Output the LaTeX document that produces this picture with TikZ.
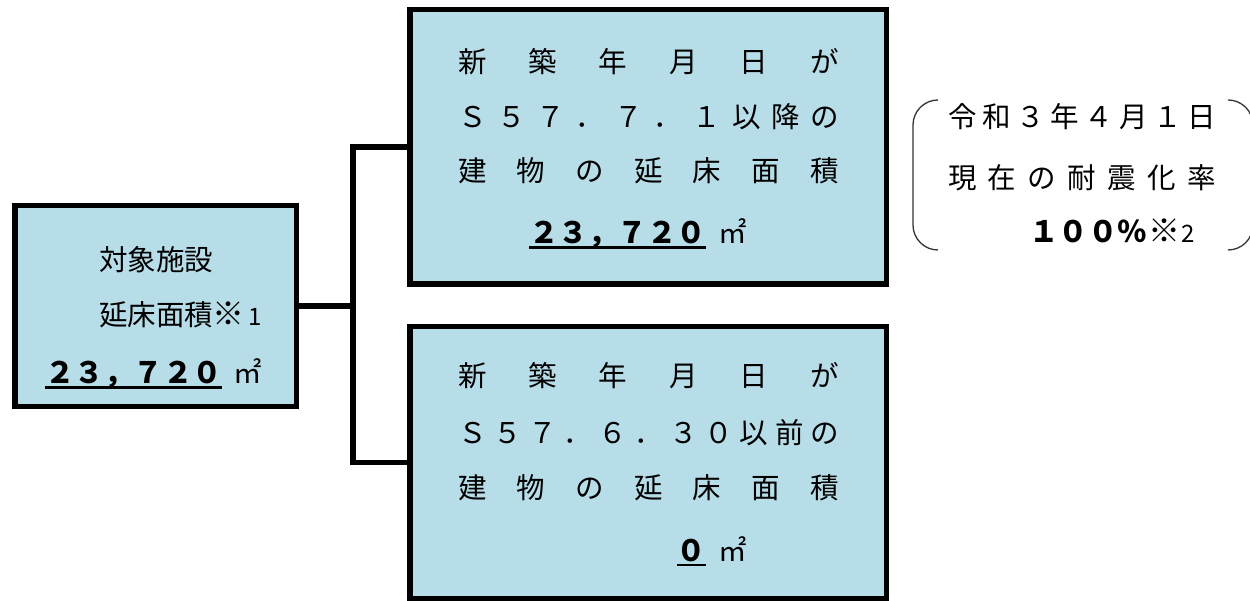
\documentclass[tikz,border=0pt]{standalone}
\usepackage{fontspec}
\setmainfont{Noto Sans CJK JP}
\definecolor{boxblue}{HTML}{B7DDE8}
\definecolor{brkgray}{HTML}{333333}
\newcommand\fillline[2]{\makebox[#1pt][s]{#2}}
\newcommand\mainsize{\fontsize{28.5}{30}\selectfont}
\newcommand\numsize{\fontsize{29.5}{30}\selectfont\bfseries}
\newcommand\marksize{\fontsize{32}{30}\selectfont\mdseries}
\newcommand\notesize{\fontsize{24}{24}\selectfont\mdseries}
\begin{document}
\begin{tikzpicture}[x=1pt,y=-1pt,
  box/.style={draw=black, line width=5.5pt, fill=boxblue, rectangle, inner sep=0, outer sep=0},
  wire/.style={draw=black, line width=5.5pt},
  txt/.style={inner sep=0, outer sep=0, anchor=base west, font=\mainsize, text=black},
  numtxt/.style={inner sep=0, outer sep=0, anchor=base west, font=\numsize, text=black},
  uline/.style={draw=black, line width=2.4pt},
  brk/.style={draw=brkgray, line width=1.3pt, rounded corners=25pt}]
\useasboundingbox (0,0) rectangle (1250,601);
% boxes
\node[box, minimum width=281.5pt, minimum height=200.5pt] (L) at (155.5,306) {};
\node[box, minimum width=476.5pt, minimum height=274.5pt] (T) at (648,147) {};
\node[box, minimum width=476.5pt, minimum height=271.5pt] (B) at (648,462.5) {};
% connectors
\coordinate (J) at (353,306);
\draw[wire] (L.east) -- (J);
\draw[wire] (T.west) -| (J) |- (B.west);
% left box text
\node[txt] (l1) at (99,270.8) {対象施設};
\node[txt] (l2) at (99,325.3) {延床面積\hspace{-1pt}{\marksize ※}\hspace{4pt}{\notesize 1}};
\node[numtxt] (l3) at (45,384) {２３，７２０};
\draw[uline] ([yshift=-3.5pt]l3.base west) -- ([yshift=-3.5pt]l3.base east);
\node[txt] (l4) at (233,384) {㎡};
% top box text
\node[txt] (t1) at (458,72.6) {\fillline{381}{新\hfill 築\hfill 年\hfill 月\hfill 日\hfill が}};
\node[txt] (t2) at (458,128) {\fillline{381}{Ｓ\hfill ５\hfill ７\hfill ．\hfill ７\hfill ．\hfill １\hfill 以\hfill 降\hfill の}};
\node[txt] (t3) at (458,181.6) {\fillline{381}{建\hfill 物\hfill の\hfill 延\hfill 床\hfill 面\hfill 積}};
\node[numtxt] (t4) at (529,243.5) {２３，７２０};
\draw[uline] ([yshift=-4.2pt]t4.base west) -- ([yshift=-4.2pt]t4.base east);
\node[txt] (t5) at (718,243.5) {㎡};
% bottom box text
\node[txt] (b1) at (458,386.6) {\fillline{381}{新\hfill 築\hfill 年\hfill 月\hfill 日\hfill が}};
\node[txt] (b2) at (458,443.5) {\fillline{381}{Ｓ\hfill ５\hfill ７\hfill ．\hfill ６\hfill ．\hfill ３\hfill ０\hfill 以\hfill 前\hfill の}};
\node[txt] (b3) at (458,498.6) {\fillline{381}{建\hfill 物\hfill の\hfill 延\hfill 床\hfill 面\hfill 積}};
\node[numtxt, anchor=base east] (b4) at (706,561) {０};
\draw[uline] ([yshift=-4.2pt]b4.base west) -- ([yshift=-4.2pt]b4.base east);
\node[txt] (b5) at (718,561) {㎡};
% bracket note
\draw[brk] (938,100) -- (913,100) -- (913,250) -- (938,250);
\draw[brk] (1228,100) -- (1253,100) -- (1253,250) -- (1228,250);
\node[txt] (r1) at (948,128) {\fillline{268}{令\hfill 和\hfill ３\hfill 年\hfill ４\hfill 月\hfill １\hfill 日}};
\node[txt] (r2) at (948,189) {\fillline{268}{現\hfill 在\hfill の\hfill 耐\hfill 震\hfill 化\hfill 率}};
\node[numtxt] (r3) at (1029,243) {１００％\hspace{1pt}{\marksize ※}\hspace{1pt}{\notesize 2}};
\end{tikzpicture}
\end{document}
